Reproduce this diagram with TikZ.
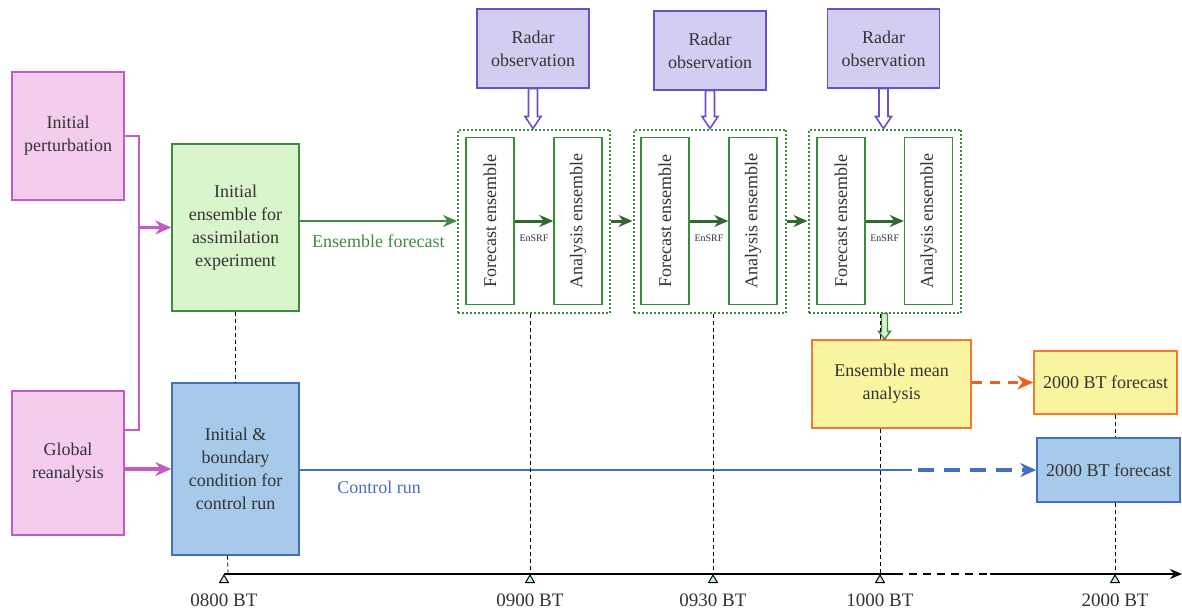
\documentclass[tikz,border=0pt]{standalone}
\usepackage{fontspec}
\setmainfont{Liberation Serif}
\usepackage{tikz}
\usetikzlibrary{arrows.meta}
\usetikzlibrary{calc}
\usetikzlibrary{shapes.geometric}
\definecolor{pinkfill}{HTML}{F4CCEE}
\definecolor{pinkline}{HTML}{C05CC4}
\definecolor{greenfill}{HTML}{D9F5CC}
\definecolor{greenline}{HTML}{3F8A3F}
\definecolor{darkgreen}{HTML}{2E6A2E}
\definecolor{bluefill}{HTML}{A7C9EA}
\definecolor{blueline}{HTML}{4470C0}
\definecolor{radarfill}{HTML}{D2CEF2}
\definecolor{radarline}{HTML}{7050C0}
\definecolor{yellowfill}{HTML}{FAF5A0}
\definecolor{orangeline}{HTML}{F07A30}
\definecolor{orangearrow}{HTML}{F06020}
\definecolor{textgray}{HTML}{333333}
\definecolor{tickfill}{HTML}{C8EEF0}
\tikzstyle{box}=[draw, inner sep=0pt, align=center, line width=0.7pt, text=textgray, font=\fontsize{9}{11.5}\selectfont]
\tikzstyle{pbox}=[box, draw=pinkline, fill=pinkfill]
\tikzstyle{gbox}=[box, draw=greenline, fill=greenfill]
\tikzstyle{bbox}=[box, draw=blueline, fill=bluefill]
\tikzstyle{rbox}=[box, draw=radarline, fill=radarfill, minimum width=56pt, minimum height=39.5pt]
\tikzstyle{ybox}=[box, draw=orangeline, fill=yellowfill]
\tikzstyle{ebox}=[box, draw=greenline, fill=white, rotate=90, minimum width=83.5pt, minimum height=24pt]
\tikzstyle{group}=[draw=greenline, line width=1pt, dash pattern=on 1pt off 1pt, inner sep=0pt, minimum width=76pt, minimum height=91.5pt]
\tikzstyle{pline}=[draw=pinkline, line width=1pt]
\tikzstyle{parrow}=[draw=pinkline, line width=1.8pt, -{Stealth[length=8pt, width=7pt]}]
\tikzstyle{garrow}=[draw=darkgreen, line width=1.5pt, -{Stealth[length=7pt, width=6pt]}]
\tikzstyle{vdash}=[black, line width=0.4pt, dash pattern=on 2pt off 1.5pt]
\tikzstyle{tick}=[draw, fill=tickfill, regular polygon, regular polygon sides=3, minimum size=5pt, inner sep=0pt, anchor=corner 1, line width=0.5pt]
\tikzstyle{timelabel}=[text=textgray, font=\fontsize{9.5}{11}\selectfont]
\newcommand{\hollowarrow}[6]{\draw[#1] ($(#2)+(-#4,0)$) -- ($(#3)+(-#4,-#6)$) -- ($(#3)+(-#5,-#6)$) -- (#3) -- ($(#3)+(#5,-#6)$) -- ($(#3)+(#4,-#6)$) -- ($(#2)+(#4,0)$) -- cycle;}

\begin{document}
\begin{tikzpicture}[x=0.5pt, y=-0.5pt]
        \useasboundingbox (0, 0) rectangle (1182, 610);
        \node[pbox, minimum width=56pt, minimum height=64pt] (pert) at (68, 136) {Initial\\perturbation};
        \node[pbox, minimum width=56pt, minimum height=72pt] (glob) at (68, 463) {Global\\reanalysis};
        \node[gbox, minimum width=63.5pt, minimum height=83.5pt] (ens) at (235.5, 227.5) {Initial\\ensemble for\\assimilation\\experiment};
        \node[bbox, minimum width=63.5pt, minimum height=86pt] (ctrl) at (235.5, 469) {Initial \&\\boundary\\condition for\\control run};
        \node[rbox] (r1) at (533, 48.5) {Radar\\observation};
        \node[rbox] (r2) at (710, 50.5) {Radar\\observation};
        \node[rbox] (r3) at (883.5, 48.5) {Radar\\observation};
        \node[group] (g1) at (534, 221) {};
        \node[group] (g2) at (709.5, 221) {};
        \node[group] (g3) at (884.5, 221) {};
        \node[ebox] (f1) at (490, 221) {Forecast ensemble};
        \node[ebox] (a1) at (578, 221) {Analysis ensemble};
        \node[ebox] (f2) at (665, 221) {Forecast ensemble};
        \node[ebox] (a2) at (753, 221) {Analysis ensemble};
        \node[ebox] (f3) at (841, 221) {Forecast ensemble};
        \node[ebox] (a3) at (928.5, 221) {Analysis ensemble};
        \node[ybox, minimum width=79.5pt, minimum height=44pt] (mean) at (891.5, 384) {Ensemble mean\\analysis};
        \node[ybox, minimum width=71.5pt, minimum height=31.5pt] (fy) at (1105.5, 382.5) {2000 BT forecast};
        \node[bbox, minimum width=71.5pt, minimum height=32pt] (fb) at (1108.5, 470) {2000 BT forecast};
        \coordinate (pjoin) at (139, 430);
        \draw[pline] (pert.east) -| (pjoin) -- (pjoin -| glob.east);
        \draw[parrow] (ens.west -| pjoin) -- (ens.west);
        \draw[parrow] (ctrl.west -| glob.east) -- (ctrl.west);
        \draw[draw=greenline, line width=1.3pt, -{Stealth[length=7pt, width=6pt]}] (ens.east |- g1.west) -- node[below=3pt, text=greenline, font=\fontsize{9}{11}\selectfont] (eflabel) {Ensemble forecast} (g1.west);
        \draw[garrow] (f1) -- (a1);
        \draw[garrow] (f2) -- (a2);
        \draw[garrow] (f3) -- (a3);
        \draw[garrow] (g1.east) -- (g2.west);
        \draw[garrow] (g2.east) -- (g3.west);
        \node[text=textgray, font=\fontsize{5}{6}\selectfont] (s1) at ($(f1)!0.5!(a1)+(0, 17)$) {EnSRF};
        \node[text=textgray, font=\fontsize{5}{6}\selectfont] (s2) at ($(f2)!0.5!(a2)+(0, 17)$) {EnSRF};
        \node[text=textgray, font=\fontsize{5}{6}\selectfont] (s3) at ($(f3)!0.5!(a3)+(0, 17)$) {EnSRF};
        \coordinate (h1) at (r1.south |- g1.north);
        \coordinate (h2) at (r2.south |- g2.north);
        \coordinate (h3) at (r3.south |- g3.north);
        \coordinate (h4) at (g3.south |- mean.north);
        \hollowarrow{draw=radarline, fill=white, line width=0.8pt}{r1.south}{h1}{4.5}{8}{12}
        \hollowarrow{draw=radarline, fill=white, line width=0.8pt}{r2.south}{h2}{4.5}{8}{12}
        \hollowarrow{draw=radarline, fill=white, line width=0.8pt}{r3.south}{h3}{4.5}{8}{12}
        \hollowarrow{draw=greenline, fill=greenfill, line width=0.7pt}{g3.south}{h4}{3}{6}{8}
        \draw[draw=orangearrow, line width=1.8pt, dash pattern=on 5pt off 4pt, -{Stealth[length=8pt, width=7pt]}] (mean.east |- fy.west) -- (fy.west);
        \coordinate (cbreak) at (912, 470);
        \draw[draw=blueline, line width=0.8pt] (ctrl.east |- fb.west) -- (cbreak);
        \draw[draw=blueline, line width=1.8pt, dash pattern=on 8pt off 5pt, shorten <=3pt, -{Stealth[length=8pt, width=7pt]}] (cbreak) -- (fb.west);
        \node[text=blueline, font=\fontsize{9}{11}\selectfont] (crlabel) at (379, 487) {Control run};
        \coordinate (t0800) at (224, 574);
        \coordinate (t0900) at (530, 574);
        \coordinate (t0930) at (713, 574);
        \coordinate (t1000) at (880, 574);
        \coordinate (t2000) at (1115, 574);
        \coordinate (tbreak) at (895, 574);
        \coordinate (tresume) at (990, 574);
        \coordinate (tend) at (1182, 574);
        \draw[vdash] (ens.south) -- (ctrl.north);
        \draw[vdash] ($(ctrl.south)+(-8, 0)$) -- ($(t0800)+(4, 0)$);
        \draw[vdash] (t0900 |- g1.south) -- (t0900);
        \draw[vdash] (t0930 |- g2.south) -- (t0930);
        \draw[vdash] (t1000 |- g3.south) -- (t1000 |- mean.north);
        \draw[vdash] (t1000 |- mean.south) -- (t1000);
        \draw[vdash] (t2000 |- fy.south) -- (t2000 |- fb.north);
        \draw[vdash] (t2000 |- fb.south) -- (t2000);
        \draw[line width=0.7pt] (t0800) -- (tbreak);
        \draw[line width=1.2pt, dash pattern=on 4pt off 3pt] (tbreak) -- (tresume);
        \draw[line width=1.2pt, -{Stealth[length=6pt, width=5pt]}] (tresume) -- (tend);
        \node[tick] (k0800) at (t0800) {};
        \node[tick] (k0900) at (t0900) {};
        \node[tick] (k0930) at (t0930) {};
        \node[tick] (k1000) at (t1000) {};
        \node[tick] (k2000) at (t2000) {};
        \node[timelabel] (l0800) at ($(t0800)+(0, 26)$) {0800 BT};
        \node[timelabel] (l0900) at ($(t0900)+(0, 26)$) {0900 BT};
        \node[timelabel] (l0930) at ($(t0930)+(0, 26)$) {0930 BT};
        \node[timelabel] (l1000) at ($(t1000)+(0, 26)$) {1000 BT};
        \node[timelabel] (l2000) at ($(t2000)+(0, 26)$) {2000 BT};
    \end{tikzpicture}
\end{document}
